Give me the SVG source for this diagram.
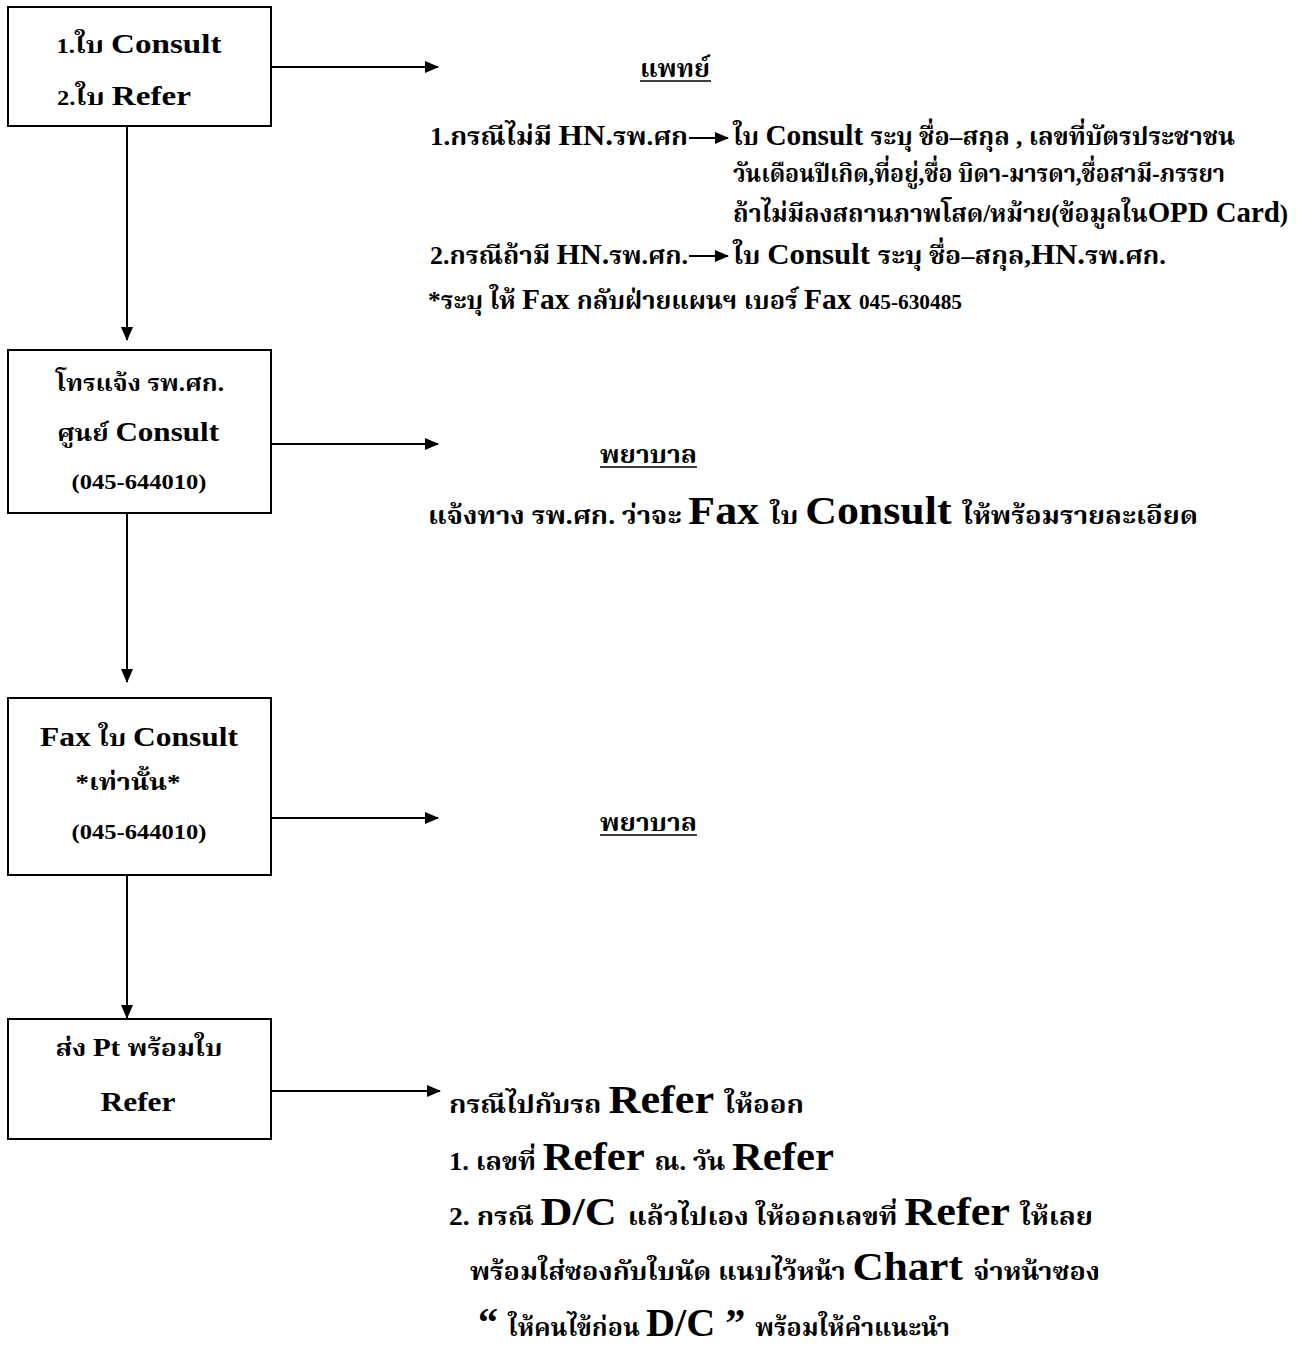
<svg xmlns="http://www.w3.org/2000/svg" width="1298" height="1351" viewBox="0 0 1298 1351">
<style>
text { font-family: "Liberation Serif", "Noto Serif Thai", "Noto Sans Thai", "DejaVu Sans", serif; font-weight: bold; fill: #000; }
.box { fill: #fff; stroke: #000; stroke-width: 2; }
.conn { stroke: #000; stroke-width: 2; fill: none; marker-end: url(#ah); }
.mid { text-anchor: middle; }
.bt { font-size: 23px; }
.blat { font-size: 27px; }
.bsm { font-size: 20px; }
.th { font-size: 25px; }
.lat { font-size: 29px; }
.big { font-size: 40px; }
.sm { font-size: 21px; }
.ul { stroke: #000; stroke-width: 1.5; }
</style>
<defs>
<marker id="ah" markerWidth="14" markerHeight="12" refX="13" refY="6" orient="auto" markerUnits="userSpaceOnUse">
<path d="M0,0 L14,6 L0,12 Z" fill="#000"/>
</marker>
</defs>
<rect width="1298" height="1351" fill="#fff"/>

<g id="connectors">
<line class="conn" x1="271" y1="67" x2="438" y2="67"/>
<line class="conn" x1="271" y1="444" x2="438" y2="444"/>
<line class="conn" x1="271" y1="818" x2="438" y2="818"/>
<line class="conn" x1="271" y1="1091" x2="440" y2="1091"/>
<line class="conn" x1="127" y1="126" x2="127" y2="340"/>
<line class="conn" x1="127" y1="513" x2="127" y2="682"/>
<line class="conn" x1="127" y1="875" x2="127" y2="1018"/>
<line class="conn" x1="689" y1="138" x2="728" y2="138"/>
<line class="conn" x1="689" y1="256" x2="728" y2="256"/>
</g>

<g id="node1">
<rect class="box" x="8" y="7" width="263" height="119"/>
<text x="139" y="53" class="mid" textLength="165" lengthAdjust="spacingAndGlyphs"><tspan class="bsm">1.</tspan><tspan class="bt">ใบ  </tspan><tspan class="blat">Consult</tspan></text>
<text x="124" y="105" class="mid" textLength="134" lengthAdjust="spacingAndGlyphs"><tspan class="bsm">2.</tspan><tspan class="bt">ใบ  </tspan><tspan class="blat">Refer</tspan></text>
</g>

<g id="node2">
<rect class="box" x="8" y="350" width="263" height="163"/>
<text x="140" y="391" class="mid bt" textLength="168" lengthAdjust="spacingAndGlyphs">โทรแจ้ง รพ.ศก.</text>
<text x="138" y="441" class="mid" textLength="162" lengthAdjust="spacingAndGlyphs"><tspan class="bt">ศูนย์ </tspan><tspan class="blat">Consult</tspan></text>
<text x="139" y="489" class="mid bsm" textLength="135" lengthAdjust="spacingAndGlyphs">(045-644010)</text>
</g>

<g id="node3">
<rect class="box" x="8" y="698" width="263" height="177"/>
<text x="139" y="746" class="mid" textLength="198" lengthAdjust="spacingAndGlyphs"><tspan class="blat">Fax </tspan><tspan class="bt">ใบ </tspan><tspan class="blat">Consult</tspan></text>
<text x="128" y="790" class="mid bt" textLength="105" lengthAdjust="spacingAndGlyphs">*เท่านั้น*</text>
<text x="139" y="839" class="mid bsm" textLength="135" lengthAdjust="spacingAndGlyphs">(045-644010)</text>
</g>

<g id="node4">
<rect class="box" x="8" y="1019" width="263" height="120"/>
<text x="139" y="1056" class="mid" textLength="167" lengthAdjust="spacingAndGlyphs"><tspan class="bt">ส่ง  </tspan><tspan class="blat" style="font-size:25px">Pt </tspan><tspan class="bt">พร้อมใบ</tspan></text>
<text x="138" y="1111" class="mid blat" textLength="75" lengthAdjust="spacingAndGlyphs">Refer</text>
</g>

<g id="note-doctor">
<text x="640" y="77" class="th" textLength="70" lengthAdjust="spacingAndGlyphs">แพทย์</text>
<line class="ul" x1="640" y1="81" x2="711" y2="81"/>
<text x="430" y="145" textLength="258" lengthAdjust="spacingAndGlyphs"><tspan class="th">1.กรณีไม่มี </tspan><tspan class="lat">HN.</tspan><tspan class="th">รพ.ศก</tspan></text>
<text x="733" y="145" textLength="502" lengthAdjust="spacingAndGlyphs"><tspan class="th">ใบ </tspan><tspan class="lat">Consult </tspan><tspan class="th">ระบุ ชื่อ–สกุล , เลขที่บัตรประชาชน</tspan></text>
<text x="733" y="182" class="th" textLength="492" lengthAdjust="spacingAndGlyphs">วันเดือนปีเกิด,ที่อยู่,ชื่อ บิดา-มารดา,ชื่อสามี-ภรรยา</text>
<text x="733" y="222" textLength="555" lengthAdjust="spacingAndGlyphs"><tspan class="th">ถ้าไม่มีลงสถานภาพโสด/หม้าย(ข้อมูลใน</tspan><tspan class="lat">OPD Card</tspan><tspan class="th">)</tspan></text>
<text x="430" y="264" textLength="258" lengthAdjust="spacingAndGlyphs"><tspan class="th">2.กรณีถ้ามี </tspan><tspan class="lat">HN.</tspan><tspan class="th">รพ.ศก.</tspan></text>
<text x="733" y="264" textLength="433" lengthAdjust="spacingAndGlyphs"><tspan class="th">ใบ </tspan><tspan class="lat">Consult </tspan><tspan class="th">ระบุ ชื่อ–สกุล,</tspan><tspan class="lat">HN.</tspan><tspan class="th">รพ.ศก.</tspan></text>
<text x="428" y="309" textLength="534" lengthAdjust="spacingAndGlyphs"><tspan class="th">*ระบุ  ให้ </tspan><tspan class="lat">Fax </tspan><tspan class="th">กลับฝ่ายแผนฯ เบอร์ </tspan><tspan class="lat">Fax </tspan><tspan class="sm">045-630485</tspan></text>
</g>

<g id="note-nurse1">
<text x="600" y="463" class="th" textLength="97" lengthAdjust="spacingAndGlyphs">พยาบาล</text>
<line class="ul" x1="600" y1="467" x2="697" y2="467"/>
<text x="428" y="524" textLength="770" lengthAdjust="spacingAndGlyphs"><tspan class="th">แจ้งทาง รพ.ศก. ว่าจะ </tspan><tspan class="big">Fax </tspan><tspan class="th">ใบ </tspan><tspan class="big">Consult </tspan><tspan class="th">ให้พร้อมรายละเอียด</tspan></text>
</g>

<g id="note-nurse2">
<text x="600" y="831" class="th" textLength="97" lengthAdjust="spacingAndGlyphs">พยาบาล</text>
<line class="ul" x1="600" y1="835" x2="697" y2="835"/>
</g>

<g id="note-refer">
<text x="449" y="1113" textLength="355" lengthAdjust="spacingAndGlyphs"><tspan class="th">กรณีไปกับรถ </tspan><tspan class="big">Refer </tspan><tspan class="th">ให้ออก</tspan></text>
<text x="449" y="1170" textLength="385" lengthAdjust="spacingAndGlyphs"><tspan class="th">1. เลขที่  </tspan><tspan class="big">Refer </tspan><tspan class="th">ณ. วัน </tspan><tspan class="big">Refer</tspan></text>
<text x="449" y="1225" textLength="644" lengthAdjust="spacingAndGlyphs"><tspan class="th">2. กรณี </tspan><tspan class="big">D/C </tspan><tspan class="th"> แล้วไปเอง ให้ออกเลขที่ </tspan><tspan class="big">Refer </tspan><tspan class="th">ให้เลย</tspan></text>
<text x="470" y="1280" textLength="630" lengthAdjust="spacingAndGlyphs"><tspan class="th">พร้อมใส่ซองกับใบนัด แนบไว้หน้า </tspan><tspan class="big">Chart </tspan><tspan class="th"> จ่าหน้าซอง</tspan></text>
<text x="478" y="1336" textLength="472" lengthAdjust="spacingAndGlyphs"><tspan class="big">“ </tspan><tspan class="th">ให้คนไข้ก่อน </tspan><tspan class="big">D/C </tspan><tspan class="big">” </tspan><tspan class="th">พร้อมให้คำแนะนำ</tspan></text>
</g>
</svg>
